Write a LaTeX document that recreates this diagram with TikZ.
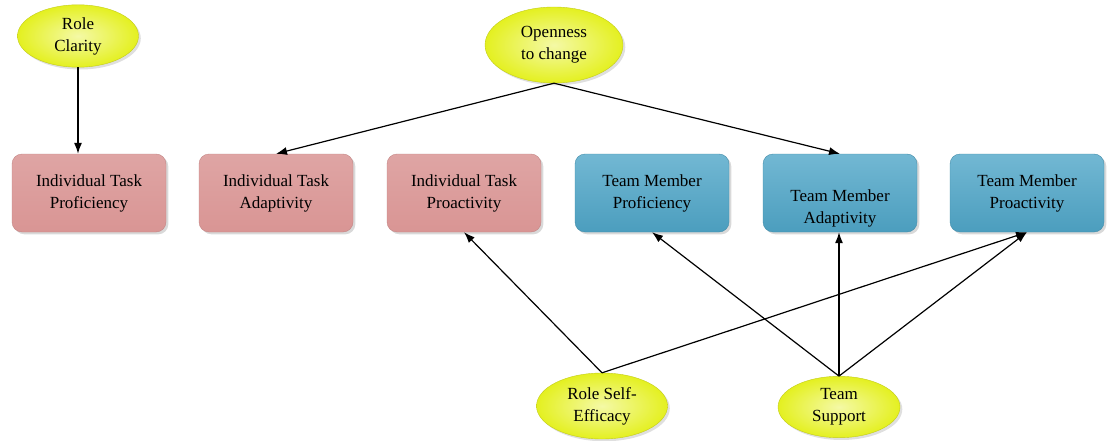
\documentclass[tikz,border=0pt]{standalone}
\usepackage{fontspec}
\setmainfont{Liberation Serif}
\usetikzlibrary{arrows.meta,shapes.geometric,shadows}
\definecolor{taskpink}{HTML}{D99594}
\definecolor{teamblue}{HTML}{4FA6C8}
\definecolor{factoryellow}{HTML}{E4F020}

\begin{document}
\begin{tikzpicture}[x=1pt,y=-1pt,
  every node/.append style={font=\fontsize{17}{22}\selectfont, text=black, align=center},
  factor/.style={ellipse, inner color=factoryellow!40!white, outer color=factoryellow,
    draw=factoryellow!85!black, thin, drop shadow={opacity=0.25}},
  taskbox/.style={rectangle, rounded corners=10pt, minimum width=154pt, minimum height=78pt,
    top color=taskpink!85!white, bottom color=taskpink, draw=taskpink!90!black, thin,
    drop shadow={opacity=0.3}},
  teambox/.style={taskbox, top color=teamblue!80!white, bottom color=teamblue!95!black,
    draw=teamblue!85!black},
  link/.style={draw, line width=1.2pt, -{Latex[length=11pt,width=8pt]}}]
\useasboundingbox (0,0) rectangle (1108,441);
% antecedents
\node[factor, minimum width=121pt, minimum height=58pt] (rc) at (78,36) {Role\\Clarity};
\node[factor, minimum width=138pt, minimum height=76pt] (oc) at (554,45) {Openness\\to change};
\node[factor, minimum width=131pt, minimum height=66pt] (rse) at (602,406) {Role Self-\\Efficacy};
\node[factor, minimum width=122pt, minimum height=60pt] (ts) at (839,407) {Team\\Support};
% performance dimensions
\node[taskbox] (itp) at (89,193) {Individual Task\\Proficiency};
\node[taskbox] (ita) at (276,193) {Individual Task\\Adaptivity};
\node[taskbox] (itr) at (464,193) {Individual Task\\Proactivity};
\node[teambox] (tmp) at (652,193) {Team Member\\Proficiency};
\node[teambox, label={[yshift=-15pt]center:Team Member\\Adaptivity}] (tma) at (840,193) {};
\node[teambox] (tmr) at (1027,193) {Team Member\\Proactivity};
% relations
\draw[link] (rc.south) -- (rc.south |- itp.north);
\draw[link] (oc.south) -- (ita.north);
\draw[link] (oc.south) -- (tma.north);
\draw[link] (rse.north) -- (itr.south);
\draw[link] (rse.north) -- (tmr.south);
\draw[link] (ts.north) -- (tmp.south);
\draw[link] (ts.north) -- (ts.north |- tma.south);
\draw[link] (ts.north) -- (tmr.south);
\end{tikzpicture}
\end{document}
